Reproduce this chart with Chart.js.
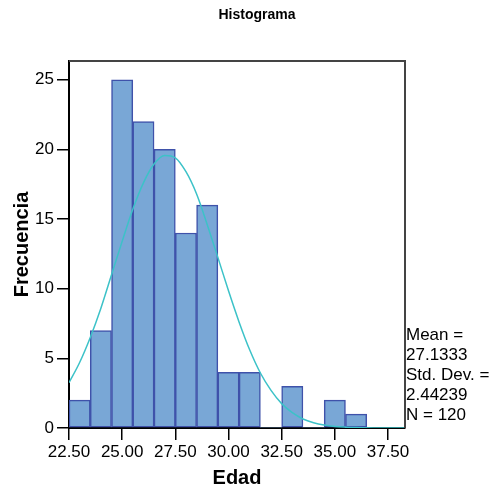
<!DOCTYPE html>
<html><head><meta charset="utf-8">
<script src="https://cdn.jsdelivr.net/npm/chart.js@4"></script>
<style>html,body{margin:0;padding:0;background:#fff}#c{display:block}</style>
</head><body>
<canvas id="c" width="495" height="493"></canvas>
<script>
const binCenters = [23, 24, 25, 26, 27, 28, 29, 30, 31, 32, 33, 34, 35, 36];
const frequencies = [2, 7, 25, 22, 20, 14, 16, 4, 4, 0, 3, 0, 2, 1];
const curveX = [22.5, 23, 23.5, 24, 24.5, 25, 25.5, 26, 26.5, 27, 27.5, 28, 28.5, 29, 29.5, 30, 30.5, 31, 31.5, 32, 32.5, 33, 33.5, 34, 34.5, 35, 35.5, 36, 37, 38.3];
const curveY = [3.25, 4.7, 6.5, 8.6, 11.0, 13.4, 15.7, 17.6, 18.95, 19.57, 19.4, 18.4, 16.8, 14.6, 12.25, 9.85, 7.6, 5.6, 3.95, 2.7, 1.75, 1.1, 0.65, 0.38, 0.21, 0.11, 0.06, 0.03, 0.0, 0.0];
const xTicks = [22.5, 25, 27.5, 30, 32.5, 35, 37.5];
const yTicks = [0, 5, 10, 15, 20, 25];
const chartTitle = "Histograma";
const xTitle = "Edad";
const yTitle = "Frecuencia";
const statsLines = ["Mean =", "27.1333", "Std. Dev. =", "2.44239", "N = 120"];

const FONT = "'Liberation Sans', Arial, sans-serif";

const extras = {
  id: 'extras',
  afterDraw(chart) {
    const {ctx, chartArea: a} = chart;
    ctx.save();
    ctx.strokeStyle = '#444';
    ctx.lineWidth = 2;
    ctx.beginPath();
    ctx.moveTo(a.left, a.top);
    ctx.lineTo(a.right, a.top);
    ctx.lineTo(a.right, a.bottom);
    ctx.stroke();
    ctx.fillStyle = '#000';
    ctx.font = "bold 14px " + FONT;
    ctx.textAlign = 'center';
    ctx.textBaseline = 'middle';
    ctx.fillText(chartTitle, 257, 15);
    ctx.font = "17px " + FONT;
    ctx.textAlign = 'left';
    statsLines.forEach((t, i) => ctx.fillText(t, a.right + 1, 335.5 + i * 19.9));
    ctx.restore();
  }
};

new Chart(document.getElementById('c'), {
  data: {
    datasets: [
      {
        type: 'line',
        data: curveX.map((x, i) => ({x, y: curveY[i]})),
        borderColor: '#3cc2c8',
        borderWidth: 1.5,
        pointRadius: 0,
        cubicInterpolationMode: 'monotone',
        fill: false,
        order: 0
      },
      {
        type: 'bar',
        data: binCenters.map((x, i) => ({x, y: frequencies[i]})),
        backgroundColor: '#79a7d6',
        borderColor: '#3f52aa',
        borderWidth: c => (c.raw && c.raw.y === 0) ? 0 : 1.5,
        borderSkipped: false,
        barPercentage: 1,
        categoryPercentage: 1,
        grouped: false,
        order: 1
      }
    ]
  },
  options: {
    responsive: false,
    animation: false,
    devicePixelRatio: 1,
    layout: {padding: {top: 61, right: 90, left: 0, bottom: 0}},
    plugins: {legend: {display: false}, tooltip: {enabled: false}, title: {display: false}},
    scales: {
      x: {
        type: 'linear',
        offset: false,
        min: 22.5,
        max: 38.3,
        afterBuildTicks: s => { s.ticks = xTicks.map(v => ({value: v})); },
        afterFit: s => { s.height = 65; },
        ticks: {
          callback: v => Number(v).toFixed(2),
          font: {family: FONT, size: 17},
          color: '#000',
          maxRotation: 0,
          autoSkip: false,
          padding: 2
        },
        grid: {offset: false, drawOnChartArea: false, drawTicks: true, tickLength: 12, color: '#000', lineWidth: 1.5},
        border: {color: '#000', width: 2},
        title: {display: true, text: xTitle, font: {family: FONT, size: 20, weight: 'bold'}, color: '#000', padding: {top: 0, bottom: 3}}
      },
      y: {
        type: 'linear',
        min: 0,
        max: 26.35,
        afterBuildTicks: s => { s.ticks = yTicks.map(v => ({value: v})); },
        afterFit: s => { s.width = 69; },
        ticks: {
          font: {family: FONT, size: 17},
          color: '#000',
          padding: 3
        },
        grid: {drawOnChartArea: false, drawTicks: true, tickLength: 12, color: '#000', lineWidth: 1.5},
        border: {color: '#000', width: 2},
        title: {display: true, text: yTitle, font: {family: FONT, size: 20, weight: 'bold'}, color: '#000', padding: {top: 10, bottom: 0}}
      }
    }
  },
  plugins: [extras]
});
</script>
</body></html>
